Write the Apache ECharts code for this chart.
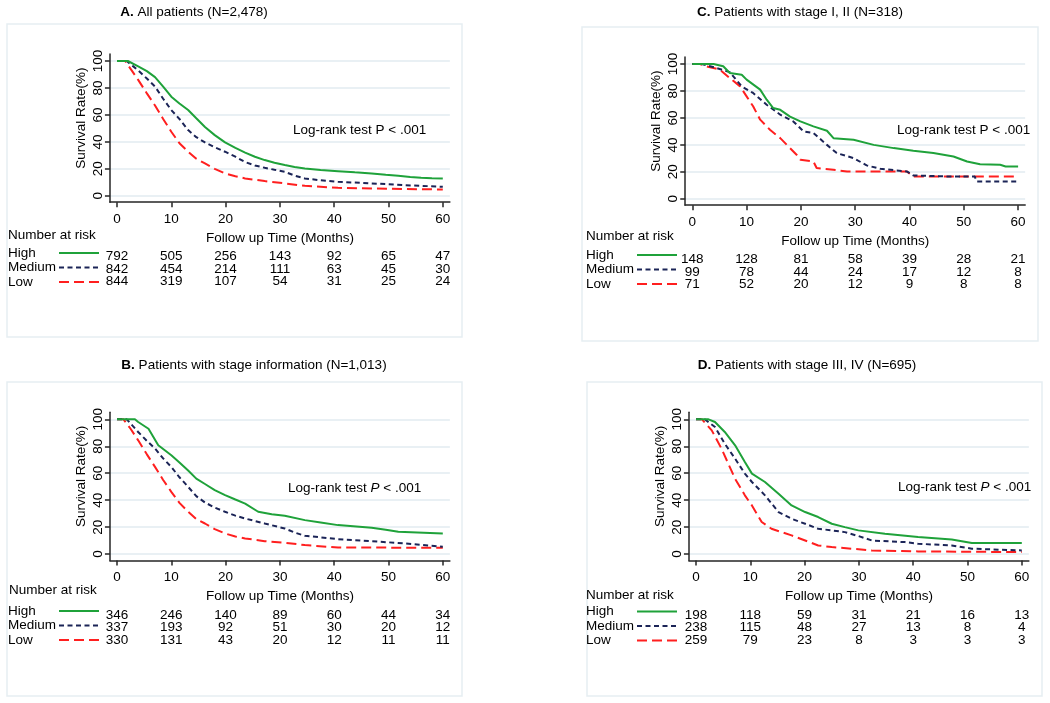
<!DOCTYPE html>
<html>
<head>
<meta charset="utf-8">
<script src="https://cdn.jsdelivr.net/npm/echarts@6/dist/echarts.min.js"></script>
<style>html,body{margin:0;padding:0;background:#fff}#c{width:1050px;height:703px}</style>
</head>
<body>
<div id="c"></div>
<script>
// ---- tick labels ----
const monthTicks = [0, 10, 20, 30, 40, 50, 60];
const rateTicks = [0, 20, 40, 60, 80, 100];
const groupNames = ['High', 'Medium', 'Low'];

// ---- Panel A: All patients ----
const aHigh = [[0,100],[2,100],[3.9,96],[5.5,92.5],[7,88],[8.5,81],[10,73.5],[11.5,68.5],[13.1,63.6],[14.6,57.5],[16.2,51],[18,45],[19.9,39.6],[21.8,35.5],[23.6,32],[25.4,29],[27.2,26.5],[29,24.5],[30.9,22.8],[32.7,21.3],[34.6,20.3],[37.5,19.2],[40.7,18.3],[43.8,17.4],[46.9,16.6],[49.5,15.6],[51.8,14.9],[54,14],[56,13.4],[58,13],[60,12.9]];
const aMed = [[0,100],[1.8,100],[3.9,93],[5.5,87],[7,81],[8.5,72],[10,63.6],[11.5,57],[13.1,48.8],[14.6,43.5],[16.2,39.6],[18,36],[19.9,32.7],[21.8,29],[23.6,25],[25.4,22.5],[27.2,20.8],[29,19.3],[30.9,17.8],[32.7,15],[34.6,12.9],[37.5,11.5],[40.7,10.4],[46.9,9.2],[53,7.9],[60,6.7]];
const aLow = [[0,100],[1.5,100],[2.7,93],[3.9,86],[5.5,76],[7,67],[8.5,57],[10,47.5],[11.5,39],[13.1,32.7],[14.6,27.5],[16.2,24],[18,20],[19.9,16.6],[21.8,14.5],[23.6,12.9],[27.2,10.9],[30.9,9.2],[34.6,7.4],[40.7,5.9],[46.9,5.4],[53,5],[60,4.7]];
const aRiskHigh = [792, 505, 256, 143, 92, 65, 47];
const aRiskMed = [842, 454, 214, 111, 63, 45, 30];
const aRiskLow = [844, 319, 107, 54, 31, 25, 24];

// ---- Panel B: Patients with stage information ----
const bHigh = [[0,100],[3.3,100],[3.9,98],[5.8,93],[7.6,80.7],[10,73.3],[11.5,68],[13.1,62],[14.6,56],[16.2,52],[18,47.5],[19.9,43.7],[21.8,40.5],[23.6,37.5],[26,31.4],[28.5,29.5],[30.9,28.4],[34.6,25.2],[37.5,23.5],[40.7,21.5],[46.9,19.5],[49.5,18],[51.8,16.5],[60,15.3]];
const bMed = [[0,100],[1.8,100],[3.9,90.6],[5.5,84],[7,78.3],[8.5,71],[10,64.7],[11.5,57],[13.1,49.9],[14.6,43],[16.2,38.3],[18,34.5],[19.9,31.4],[21.8,28.5],[23.6,26.4],[27.2,22.7],[30.9,19],[32.7,16],[34.6,13.6],[40.7,11.1],[46.9,9.6],[53,7.9],[60,5.4]];
const bLow = [[0,100],[1.2,100],[2.5,93],[3.9,84.4],[5.5,74],[7,64.7],[8.5,55],[10,46.2],[11.5,38],[13.1,31.4],[14.6,26],[16.2,22.7],[18,18.5],[19.9,15.3],[21.8,13],[23.6,11.6],[27.2,9.6],[30.9,8.4],[34.6,6.7],[40.7,4.9],[60,4.7]];
const bRiskHigh = [346, 246, 140, 89, 60, 44, 34];
const bRiskMed = [337, 193, 92, 51, 30, 20, 12];
const bRiskLow = [330, 131, 43, 20, 12, 11, 11];

// ---- Panel C: Patients with stage I, II ----
const cHigh = [[0,100],[3.9,100],[5.7,98.3],[6.9,93.3],[9.1,92],[10,88.4],[12.5,81],[13.7,73.5],[14.9,67.3],[16.2,66],[18,61],[19.9,57.4],[22.3,53.7],[24.8,50.5],[26,45],[29.7,43.8],[33.4,40],[37.1,37.6],[40.7,35.6],[44.4,33.9],[48.1,31.4],[50.6,27.7],[53,25.7],[56.7,25.2],[57.7,24],[60,24]];
const cMed = [[0,100],[1.7,100],[2,99],[4.5,97],[6.9,94],[9.1,83.4],[11.2,78.5],[13.7,69.8],[16.2,62.4],[18.6,57.4],[20.5,50],[22.3,48.8],[24.8,40],[26.6,33.9],[29.7,30.2],[32.1,24.8],[34.6,22.3],[39.5,20.3],[40.7,17.3],[46.9,16.6],[52,16.6],[52.4,12.9],[60,12.9]];
const cLow = [[0,100],[1.4,100],[2.6,98.3],[5.1,95.8],[6.9,89.6],[8.8,83.4],[10,76],[11.2,68.6],[12.5,58.7],[14.3,51.2],[16.2,45],[18,37.6],[19.2,32.7],[19.9,29],[22.3,27.7],[22.9,22.8],[26,21.5],[28.5,20.3],[39.5,20.3],[40.7,16.6],[60,16.6]];
const cRiskHigh = [148, 128, 81, 58, 39, 28, 21];
const cRiskMed = [99, 78, 44, 24, 17, 12, 8];
const cRiskLow = [71, 52, 20, 12, 9, 8, 8];

// ---- Panel D: Patients with stage III, IV ----
const dHigh = [[0,100],[2.3,100],[3.5,98],[5.3,90.6],[7.2,80.7],[9,68.3],[10.3,59.7],[12.7,53.5],[15.2,44.8],[17.6,36.1],[20.1,31.2],[22.5,27.5],[25,22.5],[27.4,20],[29.9,17.6],[34.8,15.1],[40.9,12.6],[47.1,10.9],[50.8,8.2],[60,8.2]];
const dMed = [[0,100],[1.6,100],[3.5,94.3],[5.3,81.9],[7.2,70.8],[9,59.7],[10.3,53.5],[12.7,43.6],[15.2,31.2],[17.6,26.2],[20.1,22.5],[22.5,18.8],[25,17.6],[27.4,16.3],[29.9,13.4],[32.4,10.1],[38.5,8.9],[40.9,7.7],[47.1,6.4],[50.8,4],[60,2.7]];
const dLow = [[0,100],[1.1,100],[2.9,91.8],[4.7,78.2],[7.2,55.9],[9,43.6],[10.3,36.1],[12.1,23.8],[13.9,18.8],[17.6,13.9],[20.1,10.1],[22.5,6.4],[25,5.2],[28.7,4],[32.4,2.7],[40.9,2],[60,1.5]];
const dRiskHigh = [198, 118, 59, 31, 21, 16, 13];
const dRiskMed = [238, 115, 48, 27, 13, 8, 4];
const dRiskLow = [259, 79, 23, 8, 3, 3, 3];

// ---- layout (styles / positions) ----
const FONT = 'Liberation Sans, Arial, Helvetica, sans-serif';
const FS = 13.5;
const PXM = 5.43, PXU = 1.348;
const XMIN = -1.3, XMAX = 61.3, YMIN = -4.7, YMAX = 105.2;
const COLORS = ['#1fa23a', '#1b2457', '#ff1f1f'];
const DASHES = ['solid', [5, 3.5], [10, 5]];
const AXIS_COLOR = '#262626';
const GRID_COLOR = '#e2ebf0';

const panels = [
  { letter: 'A.', rest: ' All patients (N=2,478)', cx: 194, ty: 5, x0: 117, y100: 61,
    series: [aHigh, aMed, aLow], risk: [aRiskHigh, aRiskMed, aRiskLow],
    nar: [8, 228], leg: [8, 246], lr: [293, 123], italicP: false,
    frame: [7, 24, 455, 313] },
  { letter: 'B.', rest: ' Patients with stage information (N=1,013)', cx: 254, ty: 358, x0: 117, y100: 419.3,
    series: [bHigh, bMed, bLow], risk: [bRiskHigh, bRiskMed, bRiskLow],
    nar: [9, 583], leg: [8, 604], lr: [288, 481], italicP: true,
    frame: [7, 382, 455, 314] },
  { letter: 'C.', rest: ' Patients with stage I, II (N=318)', cx: 800, ty: 5, x0: 692.3, y100: 64,
    series: [cHigh, cMed, cLow], risk: [cRiskHigh, cRiskMed, cRiskLow],
    nar: [586, 229], leg: [586, 248], lr: [897, 123], italicP: false,
    frame: [582, 27, 456, 314] },
  { letter: 'D.', rest: ' Patients with stage III, IV (N=695)', cx: 807, ty: 358, x0: 696, y100: 419.3,
    series: [dHigh, dMed, dLow], risk: [dRiskHigh, dRiskMed, dRiskLow],
    nar: [586, 588], leg: [586, 604.5], lr: [898, 480], italicP: true,
    frame: [587, 382, 455, 314] }
];
const riskOffsets = [47.5, 60, 72.5];

const txt = { color: '#000', fontFamily: FONT, fontSize: FS, fontWeight: 'normal' };
const grid = [], xAxis = [], yAxis = [], series = [], title = [], legend = [], graphic = [];

panels.forEach((p) => {
  const left = p.x0 + XMIN * PXM;
  const width = (XMAX - XMIN) * PXM;
  grid.push({ left: left, top: p.y100, width: width, height: 100 * PXU, outerBoundsMode: 'none' });
});
panels.forEach((p) => {
  const left = p.x0 + XMIN * PXM;
  const width = (XMAX - XMIN) * PXM;
  grid.push({ left: left, top: p.y100 - (YMAX - 100) * PXU, width: width, height: (YMAX - YMIN) * PXU, outerBoundsMode: 'none' });
});

panels.forEach((p, i) => {
  const gBack = i, gMain = 4 + i;
  xAxis.push({ type: 'value', gridIndex: gBack, min: XMIN, max: XMAX, show: false });
  yAxis.push({ type: 'value', gridIndex: gBack, min: 0, max: 100, interval: 20,
    axisLine: { show: false }, axisTick: { show: false }, axisLabel: { show: false },
    splitLine: { show: true, lineStyle: { color: GRID_COLOR, width: 1.5 } } });
  const mainX = xAxis.length;
  xAxis.push({ type: 'value', gridIndex: gMain, min: XMIN, max: XMAX, position: 'bottom',
    axisLine: { show: true, onZero: false, lineStyle: { color: AXIS_COLOR, width: 1.5 } },
    axisTick: { show: true, customValues: monthTicks, length: 5, lineStyle: { color: AXIS_COLOR, width: 1.5 } },
    axisLabel: Object.assign({ customValues: monthTicks, margin: 10 }, txt),
    splitLine: { show: false },
    name: 'Follow up Time (Months)', nameLocation: 'middle', nameGap: 29, nameTextStyle: txt });
  const mainY = yAxis.length;
  yAxis.push({ type: 'value', gridIndex: gMain, min: YMIN, max: YMAX,
    axisLine: { show: true, onZero: false, lineStyle: { color: AXIS_COLOR, width: 1.5 } },
    axisTick: { show: true, customValues: rateTicks, length: 5, lineStyle: { color: AXIS_COLOR, width: 1.5 } },
    axisLabel: Object.assign({ customValues: rateTicks, rotate: 90, margin: 5 }, txt),
    splitLine: { show: false },
    name: 'Survival Rate(%)', nameLocation: 'middle', nameGap: 22,
    nameTextStyle: Object.assign({ padding: [0, 0, 0, 20] }, txt) });
  p.risk.forEach((arr, r) => {
    xAxis.push({ type: 'value', gridIndex: gMain, min: XMIN, max: XMAX, position: 'bottom', offset: riskOffsets[r],
      axisLine: { show: false }, axisTick: { show: false }, splitLine: { show: false },
      axisLabel: Object.assign({ customValues: monthTicks, margin: 0,
        formatter: v => String(arr[Math.round(v / 10)]) }, txt) });
  });
  p.series.forEach((data, s) => {
    series.push({ type: 'line', name: groupNames[s], xAxisIndex: mainX, yAxisIndex: mainY,
      data: data, symbol: 'none', showSymbol: false, smooth: false, z: 5 - s,
      lineStyle: { color: COLORS[s], width: 2, type: DASHES[s] }, itemStyle: { color: COLORS[s] },
      emphasis: { disabled: true }, silent: true, animation: false });
  });
  title.push({ left: p.cx, top: p.ty, textAlign: 'center', padding: 0,
    text: '{b|' + p.letter + '}{n|' + p.rest + '}',
    textStyle: { fontWeight: 'normal', rich: { b: Object.assign({}, txt, { fontWeight: 'bold' }), n: txt } } });
  title.push({ left: p.nar[0], top: p.nar[1], padding: 0, text: 'Number at risk',
    textStyle: txt });
  title.push({ left: p.lr[0], top: p.lr[1], padding: 0,
    text: p.italicP ? '{n|Log-rank test }{i|P}{n| < .001}' : '{n|Log-rank test P < .001}',
    textStyle: { fontWeight: 'normal', rich: { n: txt, i: Object.assign({}, txt, { fontStyle: 'italic' }) } } });
  legend.push({ data: groupNames, orient: 'vertical', left: p.leg[0], top: p.leg[1], align: 'right',
    itemWidth: 40, itemHeight: 12, itemGap: 0.5, padding: 0, selectedMode: false,
    itemStyle: { opacity: 0 },
    formatter: n => '{t|' + n + '}',
    textStyle: { rich: { t: Object.assign({ width: 46, align: 'left', lineHeight: 14 }, txt) } } });
  graphic.push({ type: 'rect', silent: true, z: -10,
    shape: { x: p.frame[0], y: p.frame[1], width: p.frame[2], height: p.frame[3] },
    style: { fill: 'none', stroke: '#e6eef2', lineWidth: 1.5 } });
});

const chart = echarts.init(document.getElementById('c'), null, { renderer: 'canvas' });
chart.setOption({
  backgroundColor: '#fff', animation: false,
  textStyle: { fontFamily: FONT },
  grid, xAxis, yAxis, series, title, legend, graphic,
  tooltip: { show: false }
});
</script>
</body>
</html>
